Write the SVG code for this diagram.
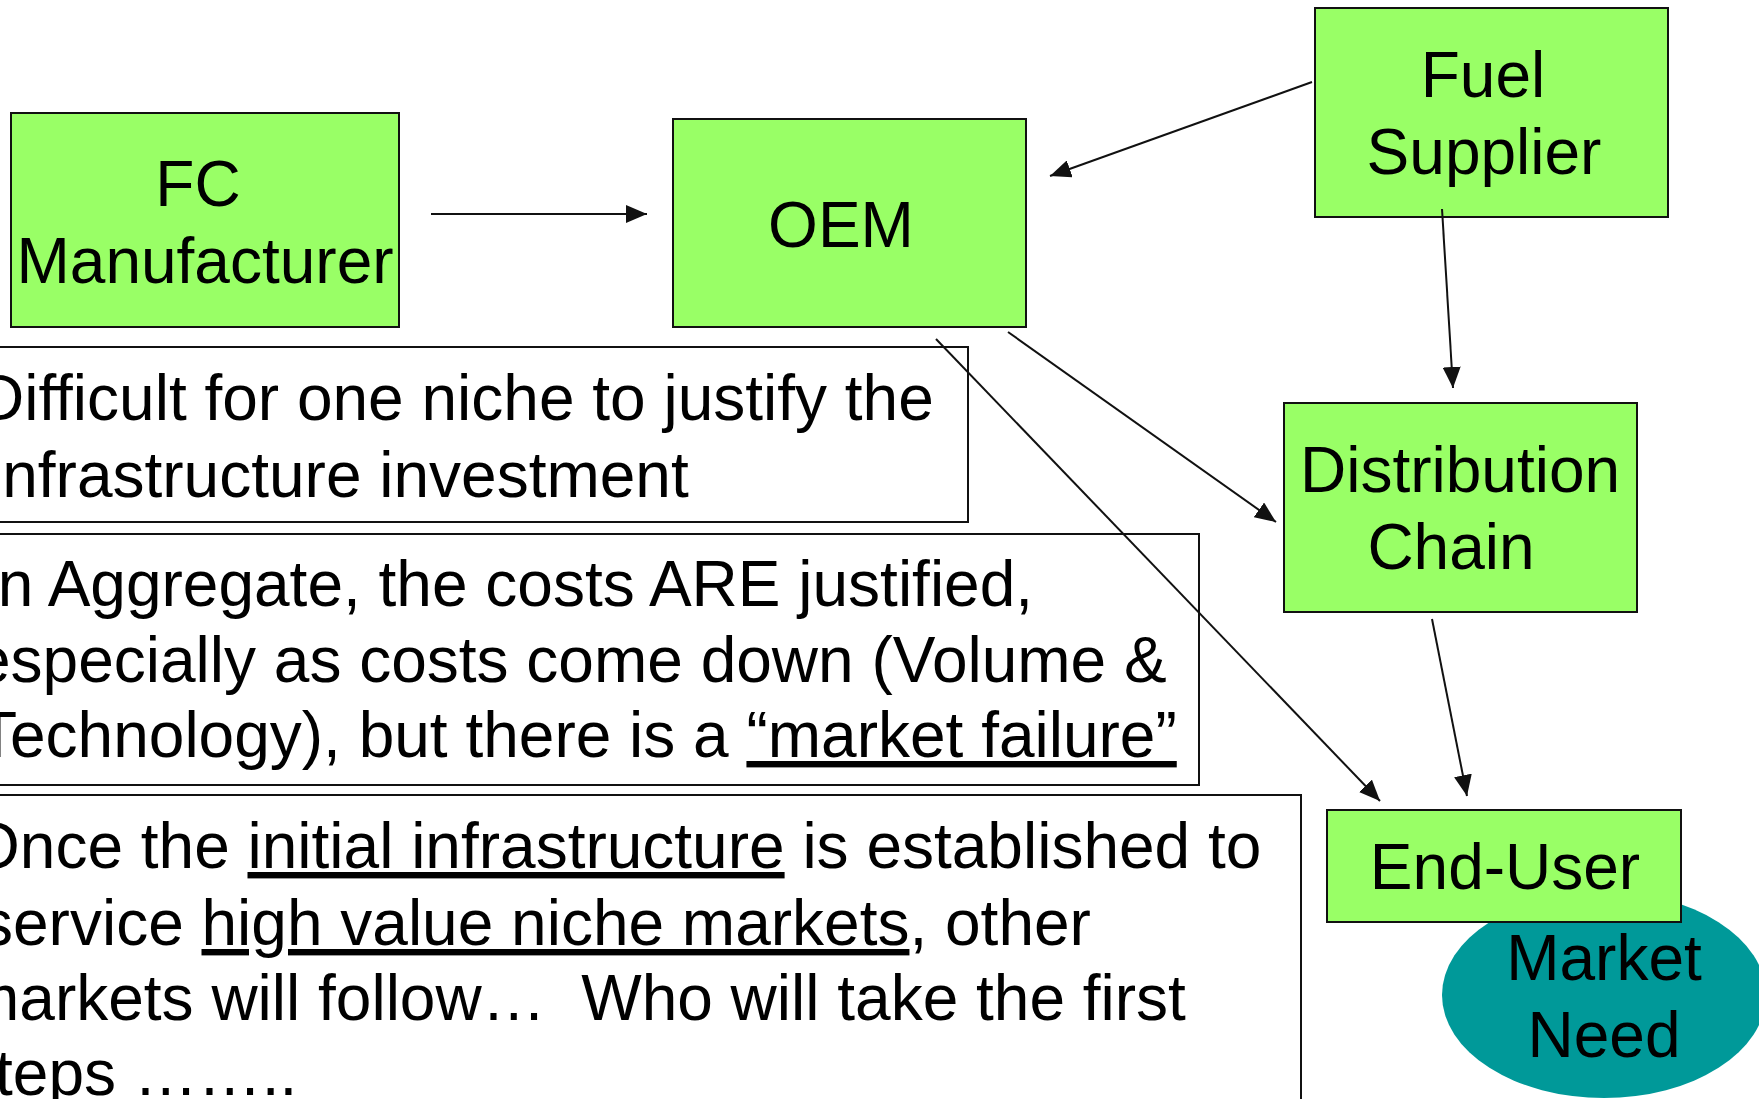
<svg xmlns="http://www.w3.org/2000/svg" width="1759" height="1099" viewBox="0 0 1759 1099">
<style>
  .node { fill: #99FF66; stroke: #111; stroke-width: 2; }
  .note { fill: none; stroke: #111; stroke-width: 2; }
  .lbl { font-family: "Liberation Sans", Arial, sans-serif; font-size: 64px; fill: #000; text-anchor: middle; }
  .txt { font-family: "Liberation Sans", Arial, sans-serif; font-size: 64px; fill: #000; }
  .u { text-decoration: underline; }
  .conn { stroke: #111; stroke-width: 2; fill: none; marker-end: url(#arrow); }
</style>
<defs>
  <marker id="arrow" markerUnits="userSpaceOnUse" viewBox="0 0 21 18" refX="21" refY="9" markerWidth="21" markerHeight="18" orient="auto">
    <path d="M0,0 L21,9 L0,18 z" fill="#111"/>
  </marker>
</defs>
<rect width="1759" height="1099" fill="#fff"/>

<g id="note1">
  <rect class="note" x="-10" y="347" width="978" height="175"/>
  <text class="txt" x="-22" y="420">Difficult for one niche to justify the</text>
  <text class="txt" x="-12" y="497">infrastructure investment</text>
</g>
<g id="note2">
  <rect class="note" x="-10" y="534" width="1209" height="251"/>
  <text class="txt" x="-20" y="606">In Aggregate, the costs ARE justified,</text>
  <text class="txt" x="-25" y="682">especially as costs come down (Volume &amp;</text>
  <text class="txt" x="-22" y="757">Technology), but there is a <tspan class="u">“market failure”</tspan></text>
</g>
<g id="note3">
  <rect class="note" x="-10" y="795" width="1311" height="320"/>
  <text class="txt" x="-30" y="868">Once the <tspan class="u">initial infrastructure</tspan> is established to</text>
  <text class="txt" x="-19" y="945">service <tspan class="u">high value niche markets</tspan>, other</text>
  <text class="txt" x="-34" y="1020">markets will follow… &#160;Who will take the first</text>
  <text class="txt" x="-37" y="1095">steps ……..</text>
</g>

<g id="fc-manufacturer">
  <rect class="node" x="11" y="113" width="388" height="214"/>
  <text class="lbl" x="198" y="206">FC</text>
  <text class="lbl" x="205" y="283">Manufacturer</text>
</g>
<g id="oem">
  <rect class="node" x="673" y="119" width="353" height="208"/>
  <text class="lbl" x="841" y="247">OEM</text>
</g>
<g id="fuel-supplier">
  <rect class="node" x="1315" y="8" width="353" height="209"/>
  <text class="lbl" x="1483" y="97">Fuel</text>
  <text class="lbl" x="1484" y="174">Supplier</text>
</g>
<g id="distribution-chain">
  <rect class="node" x="1284" y="403" width="353" height="209"/>
  <text class="lbl" x="1460" y="492">Distribution</text>
  <text class="lbl" x="1451" y="569">Chain</text>
</g>
<g id="market-need">
  <ellipse cx="1604" cy="995" rx="162" ry="103" fill="#009999"/>
  <text class="lbl" x="1604" y="980">Market</text>
  <text class="lbl" x="1604" y="1057">Need</text>
</g>
<g id="end-user">
  <rect class="node" x="1327" y="810" width="354" height="112"/>
  <text class="lbl" x="1505" y="889">End-User</text>
</g>

<g id="connectors">
  <line class="conn" x1="431" y1="214" x2="647" y2="214"/>
  <line class="conn" x1="1312" y1="82" x2="1050" y2="176"/>
  <line class="conn" x1="1442" y1="209" x2="1453" y2="388"/>
  <line class="conn" x1="1008" y1="332" x2="1276" y2="522"/>
  <line class="conn" x1="936" y1="339" x2="1380" y2="801"/>
  <line class="conn" x1="1432" y1="619" x2="1467" y2="796"/>
</g>
</svg>
